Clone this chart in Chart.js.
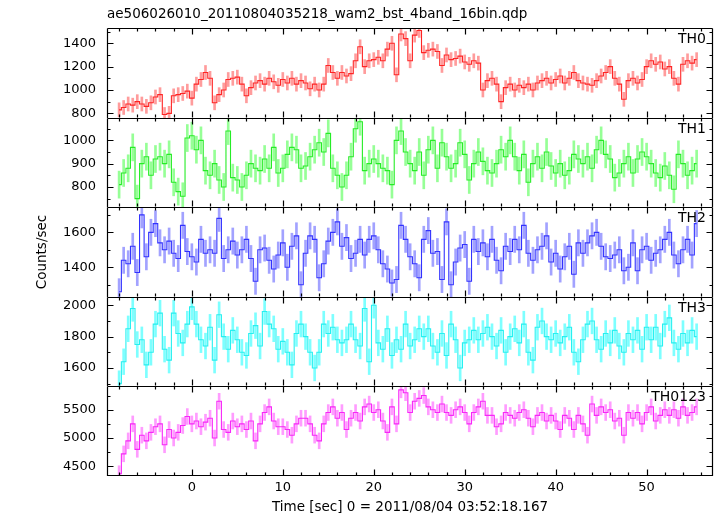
<!DOCTYPE html>
<html><head><meta charset="utf-8">
<script src="https://cdn.jsdelivr.net/npm/chart.js@4/dist/chart.umd.min.js"></script>
<style>
html,body{margin:0;padding:0;background:#fff;}
#wrap{position:relative;width:717px;height:516px;background:#fff;}
#wrap canvas{position:absolute;left:0;top:0;}
</style></head><body>
<div id="wrap">
<canvas id="c0" width="717" height="516"></canvas>
<canvas id="c1" width="717" height="516"></canvas>
<canvas id="c2" width="717" height="516"></canvas>
<canvas id="c3" width="717" height="516"></canvas>
<canvas id="c4" width="717" height="516"></canvas>
</div>
<script>
// ---- data (0.5 s bins starting at t = -8 s) ----
const plotTitle = 'ae506026010_20110804035218_wam2_bst_4band_16bin.qdp';
const xTitle = 'Time [sec] 0 = 2011/08/04 03:52:18.167';
const yTitle = 'Counts/sec';
const panelNames = ['TH0', 'TH1', 'TH2', 'TH3', 'TH0123'];
const binStart = -8;
const binWidth = 0.5;
const xTickValues = [0, 10, 20, 30, 40, 50];

const th0 = [
 830, 850, 880, 870, 900, 880, 860, 890,
 940, 960, 790, 800, 950, 960, 970, 990,
 930, 1050, 1090, 1150, 1100, 890, 960, 1000,
 1090, 1100, 1110, 1050, 950, 1020, 1060, 1080,
 1050, 1100, 1070, 1040, 1090, 1060, 1100, 1050,
 1080, 1060, 1010, 1050, 1000, 1050, 1210, 1150,
 1100, 1150, 1120, 1140, 1250, 1370, 1200, 1250,
 1260, 1280, 1250, 1350, 1400, 1130, 1480, 1440,
 1250, 1470, 1510, 1320, 1340, 1350, 1330, 1210,
 1300, 1260, 1270, 1290, 1240, 1220, 1250, 1230,
 1000, 1080, 1100, 1050, 900, 1020, 1050, 1000,
 1040, 1020, 1050, 1000, 1060, 1080, 1100, 1060,
 1090, 1120, 1060, 1100, 1150, 1080, 1060, 1050,
 1040, 1080, 1120, 1150, 1200, 1100, 1050, 920,
 1080, 1100, 1060, 1090, 1200, 1250, 1220, 1240,
 1180, 1200, 1100, 1050, 1220, 1250, 1230, 1260
];
const th1 = [
 810, 860, 880, 970, 750, 900, 930, 850,
 920, 930, 900, 940, 820, 780, 760, 1010,
 1020, 960, 1000, 870, 850, 900, 830, 800,
 1040, 840, 830, 800, 850, 900, 880, 870,
 920, 880, 970, 860, 880, 940, 970, 960,
 880, 890, 930, 960, 990, 950, 1030, 880,
 850, 800, 850, 930, 1050, 1080, 870, 900,
 920, 900, 880, 870, 810, 1000, 1040, 950,
 900, 870, 950, 850, 960, 1000, 880, 990,
 930, 880, 900, 990, 940, 830, 900, 950,
 910, 870, 860, 900, 960, 930, 1000, 930,
 870, 940, 820, 900, 930, 880, 950, 890,
 860, 900, 850, 870, 940, 920, 900, 930,
 880, 960, 1000, 940, 920, 840, 860, 900,
 930, 860, 920, 950, 930, 900, 860, 840,
 890, 850, 790, 940, 900, 850, 870, 900
];
const th2 = [
 1260, 1440, 1420, 1520, 1370, 1700, 1460, 1600,
 1650, 1540, 1500, 1550, 1480, 1450, 1640, 1490,
 1460, 1430, 1560, 1480, 1500, 1480, 1680, 1450,
 1500, 1550, 1470, 1500, 1560, 1450, 1320, 1500,
 1510, 1440, 1390, 1470, 1540, 1400, 1520, 1580,
 1300, 1480, 1580, 1560, 1340, 1420, 1550, 1600,
 1660, 1520, 1570, 1450, 1480, 1560, 1470, 1560,
 1580, 1500, 1420, 1390, 1310, 1330, 1640, 1560,
 1460, 1420, 1340, 1560, 1610, 1480, 1490, 1330,
 1660, 1300, 1430, 1510, 1530, 1320, 1560, 1490,
 1540, 1460, 1560, 1440, 1380, 1520, 1490, 1560,
 1500, 1640, 1480, 1440, 1500, 1520, 1580, 1430,
 1480, 1390, 1460, 1520, 1360, 1540, 1480, 1540,
 1580, 1600, 1520, 1460, 1450, 1470, 1500, 1380,
 1400, 1540, 1380, 1500, 1520, 1440, 1480, 1500,
 1560, 1600, 1470, 1420, 1500, 1560, 1470, 1650
];
const th3 = [
 1500, 1640, 1850, 1980, 1750, 1780, 1620, 1700,
 1880, 1950, 1720, 1650, 1950, 1820, 1760, 1880,
 1990, 1880, 1780, 1740, 1860, 1650, 1940, 1800,
 1720, 1840, 1780, 1700, 1680, 1820, 1870, 1740,
 1960, 1880, 1850, 1720, 1770, 1700, 1620, 1820,
 1880, 1800, 1700, 1600, 1700, 1880, 1820, 1860,
 1780, 1760, 1780, 1880, 1780, 1740, 1980, 1640,
 2000, 1760, 1720, 1850, 1680, 1780, 1720, 1880,
 1740, 1780, 1850, 1800, 1850, 1740, 1700, 1820,
 1680, 1880, 1780, 1600, 1760, 1780, 1840, 1780,
 1820, 1860, 1800, 1740, 1840, 1700, 1800, 1850,
 1760, 1880, 1700, 1650, 1860, 1900, 1800, 1780,
 1820, 1760, 1800, 1860, 1700, 1640, 1780, 1880,
 1900, 1780, 1720, 1820, 1760, 1840, 1740, 1700,
 1820, 1780, 1840, 1720, 1860, 1780, 1860, 1740,
 1880, 1920, 1760, 1720, 1820, 1760, 1840, 1800
];
const th0123 = [
 4370, 4720, 4950, 5250, 4800, 5050, 4950, 5100,
 5200, 5250, 4880, 5150, 5000, 5100, 5220, 5380,
 5250, 5300, 5200, 5280, 5350, 5000, 5650, 5150,
 5100, 5300, 5200, 5250, 5150, 5300, 4950, 5250,
 5450, 5550, 5300, 5200, 5200, 5150, 5050, 5250,
 5350, 5350, 5250, 5050, 4950, 5250, 5450, 5550,
 5350, 5450, 5150, 5350, 5450, 5300, 5550, 5600,
 5450, 5500, 5300, 5100, 5550, 5250, 5850, 5800,
 5450, 5650, 5700, 5750, 5550, 5500, 5450, 5600,
 5450, 5400, 5500, 5550, 5450, 5250, 5450, 5550,
 5650, 5400, 5400, 5200, 5250, 5450, 5400, 5350,
 5450, 5500, 5350, 5200, 5400, 5450, 5300, 5400,
 5300, 5150, 5400, 5350, 5150, 5400, 5250, 5050,
 5600, 5400, 5550, 5450, 5500, 5300, 5350, 5050,
 5450, 5350, 5450, 5250, 5450, 5550, 5300, 5400,
 5500, 5400, 5500, 5350, 5550, 5400, 5450, 5550
];
// typical 1-sigma error per panel (counts/sec)
const errTH = [60, 58, 75, 82, 140];

// tick labels per panel
const yTicksTH0 = [800, 1000, 1200, 1400];
const yTicksTH1 = [800, 900, 1000];
const yTicksTH2 = [1400, 1600];
const yTicksTH3 = [1600, 1800, 2000];
const yTicksTH0123 = [4500, 5000, 5500];
// axis limits
const yMinTH = [760, 714, 1230, 1485, 4329];
const yMaxTH = [1531, 1096, 1745, 2053, 5919];
const yMinorStep = [100, 50, 100, 100, 250];
const xMin = -9.33, xMax = 57.3;

// ---- styling / layout ----
const series = [th0, th1, th2, th3, th0123];
const yTicks = [yTicksTH0, yTicksTH1, yTicksTH2, yTicksTH3, yTicksTH0123];
const lineColors = ['#ff2424', '#26ec26', '#3232ff', '#26f0f0', '#f826f8'];
const errColors = ['rgba(255,90,90,0.6)', 'rgba(80,255,80,0.6)', 'rgba(100,100,255,0.6)', 'rgba(70,255,255,0.7)', 'rgba(255,90,255,0.6)'];
const panelEdges = [28, 118, 207, 297, 386, 476];
const FONT = 'DejaVu Sans';
const times = th0.map((_, i) => binStart + i * binWidth);

const framePlugin = {
  id: 'qdpFrame',
  afterDraw(chart, args, o) {
    const {ctx, chartArea: a} = chart;
    const x = chart.scales.x, y = chart.scales.y;
    const L = Math.round(a.left) + 0.5, R = Math.round(a.right) - 0.5;
    const T = Math.round(a.top) + 0.5, B = Math.round(a.bottom) - 0.5;
    ctx.save();
    ctx.strokeStyle = '#000';
    ctx.lineWidth = 1.2;
    ctx.beginPath();
    ctx.moveTo(L, T); ctx.lineTo(R, T);
    ctx.moveTo(L, T); ctx.lineTo(L, B + 0.5);
    ctx.moveTo(R, T); ctx.lineTo(R, B + 0.5);
    if (o.last) { ctx.moveTo(L, B); ctx.lineTo(R, B); }
    const s = o.minor;
    for (let v = Math.ceil(y.min / s) * s; v <= y.max; v += s) {
      const p = Math.round(y.getPixelForValue(v)) + 0.5;
      const len = o.major.includes(v) ? 6 : 3;
      ctx.moveTo(L, p); ctx.lineTo(L + len, p);
      ctx.moveTo(R, p); ctx.lineTo(R - len, p);
    }
    for (let v = Math.ceil(x.min / 2) * 2; v <= x.max; v += 2) {
      const p = Math.round(x.getPixelForValue(v)) + 0.5;
      const len = (v % 10 === 0) ? 6 : 3;
      ctx.moveTo(p, T); ctx.lineTo(p, T + len);
      ctx.moveTo(p, B); ctx.lineTo(p, B - len);
    }
    ctx.stroke();
    ctx.fillStyle = '#000';
    ctx.font = '14px "' + FONT + '"';
    ctx.textAlign = 'right';
    ctx.textBaseline = 'alphabetic';
    ctx.fillText(o.label, a.right - 7, a.top + 15);
    ctx.restore();
  }
};

function makePanel(k) {
  const first = k === 0, last = k === 4;
  const vals = series[k];
  const err = errTH[k];
  const lineData = vals.map((v, i) => ({x: times[i], y: v}));
  const errData = vals.map((v, i) => ({x: times[i], y: [v - err, v + err]}));
  const top = panelEdges[k], bottom = panelEdges[k + 1];
  const xScale = {
    type: 'linear', min: xMin, max: xMax, offset: false,
    grid: {display: false, drawTicks: false, offset: false},
    border: {display: false},
    afterBuildTicks(sc) { sc.ticks = xTickValues.map(v => ({value: v})); }
  };
  if (first) {
    Object.assign(xScale, {
      position: 'top', display: true,
      ticks: {display: false},
      title: {display: true, text: plotTitle, align: 'start', color: '#000',
              font: {family: FONT, size: 13.5}, padding: {top: 6, bottom: 0}},
      afterFit(sc) { sc.height = top; }
    });
  } else if (last) {
    Object.assign(xScale, {
      position: 'bottom', display: true,
      ticks: {display: true, color: '#000', font: {family: FONT, size: 13}, padding: 4,
              maxRotation: 0, autoSkip: false, callback: v => String(v)},
      title: {display: true, text: xTitle, color: '#000',
              font: {family: FONT, size: 13.5}, padding: {top: 0, bottom: 0}},
      afterFit(sc) { sc.height = 516 - bottom; }
    });
  } else {
    xScale.display = false;
  }
  const yScale = {
    type: 'linear', position: 'left',
    min: yMinTH[k], max: yMaxTH[k],
    grid: {display: false, drawTicks: false},
    border: {display: false},
    ticks: {color: '#000', font: {family: FONT, size: 13}, padding: 11, callback: v => String(v)},
    afterBuildTicks(sc) { sc.ticks = yTicks[k].map(v => ({value: v})); },
    afterFit(sc) { sc.width = 107; },
    title: {display: k === 2, text: yTitle, color: '#000',
            font: {family: FONT, size: 13.5}, padding: {top: 34, bottom: 0}}
  };
  return new Chart(document.getElementById('c' + k), {
    type: 'line',
    data: {
      datasets: [
        {type: 'line', data: lineData, borderColor: lineColors[k], borderWidth: 1.1,
         pointRadius: 0, stepped: 'middle', fill: false, order: 0, clip: 0},
        {type: 'bar', data: errData, backgroundColor: errColors[k], borderWidth: 0,
         barThickness: 2, order: 1, clip: 0}
      ]
    },
    options: {
      responsive: false, animation: false, events: [],
      layout: {padding: {left: 0, right: 4, top: first ? 0 : top, bottom: last ? 0 : 516 - bottom}},
      scales: {x: xScale, y: yScale},
      plugins: {
        legend: {display: false}, tooltip: {enabled: false}, title: {display: false},
        qdpFrame: {label: panelNames[k], major: yTicks[k], minor: yMinorStep[k], last: last}
      }
    },
    plugins: [framePlugin]
  });
}

Chart.defaults.font.family = FONT;
for (let k = 0; k < 5; k++) makePanel(k);
</script>
</body></html>
